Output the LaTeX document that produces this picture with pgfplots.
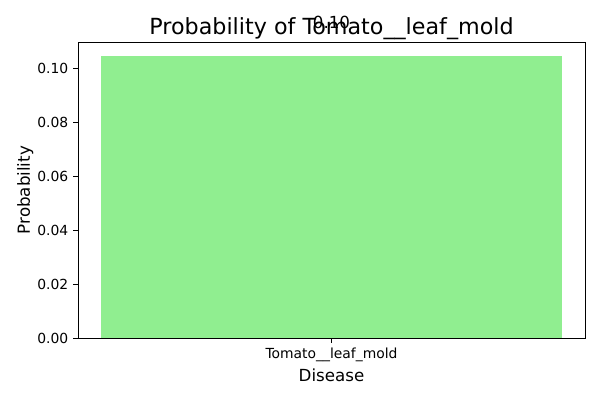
\documentclass[border=0pt]{standalone}
\usepackage{pgfplots}
\pgfplotsset{compat=1.18}
\usepackage{fontspec}
\setmainfont{DejaVu Sans}
\definecolor{lg}{HTML}{90EE90}
\begin{document}
\begin{tikzpicture}
\fill[white] (0,0) rectangle (432pt,288pt);
\begin{axis}[at={(56.2pt,44.6pt)},anchor=south west,
 scale only axis, width=365pt, height=213pt,
 xmin=-0.44, xmax=0.44, ymin=0, ymax=0.1097,
 xtick={0}, xticklabels={Tomato\_\_leaf\_mold},
 xtick pos=bottom, ytick pos=left,
 ytick={0,0.02,0.04,0.06,0.08,0.1},
 yticklabel style={/pgf/number format/fixed,/pgf/number format/fixed zerofill,/pgf/number format/precision=2},
 /pgf/number format/assume math mode=true,
 tick label style={font=\fontsize{10}{12}\selectfont},
 tick align=outside, tick style={black,major tick length=3.5pt},
 xlabel={Disease}, ylabel={Probability},
 xlabel style={yshift=2pt},
 ylabel style={yshift=-4pt},
 label style={font=\fontsize{12}{14}\selectfont},
 title={Probability of Tomato\_\_leaf\_mold},
 title style={font=\fontsize{16}{19}\selectfont, yshift=-8pt},
 clip=false, axis line style={black}]
\addplot[ybar, bar width=0.8, bar shift=0pt, fill=lg, draw=none] coordinates {(0,0.1045)};
\node[anchor=south, font=\fontsize{12}{14}\selectfont, inner sep=0pt] at (axis cs:0,0.1145) {0.10};
\end{axis}
\end{tikzpicture}
\end{document}
